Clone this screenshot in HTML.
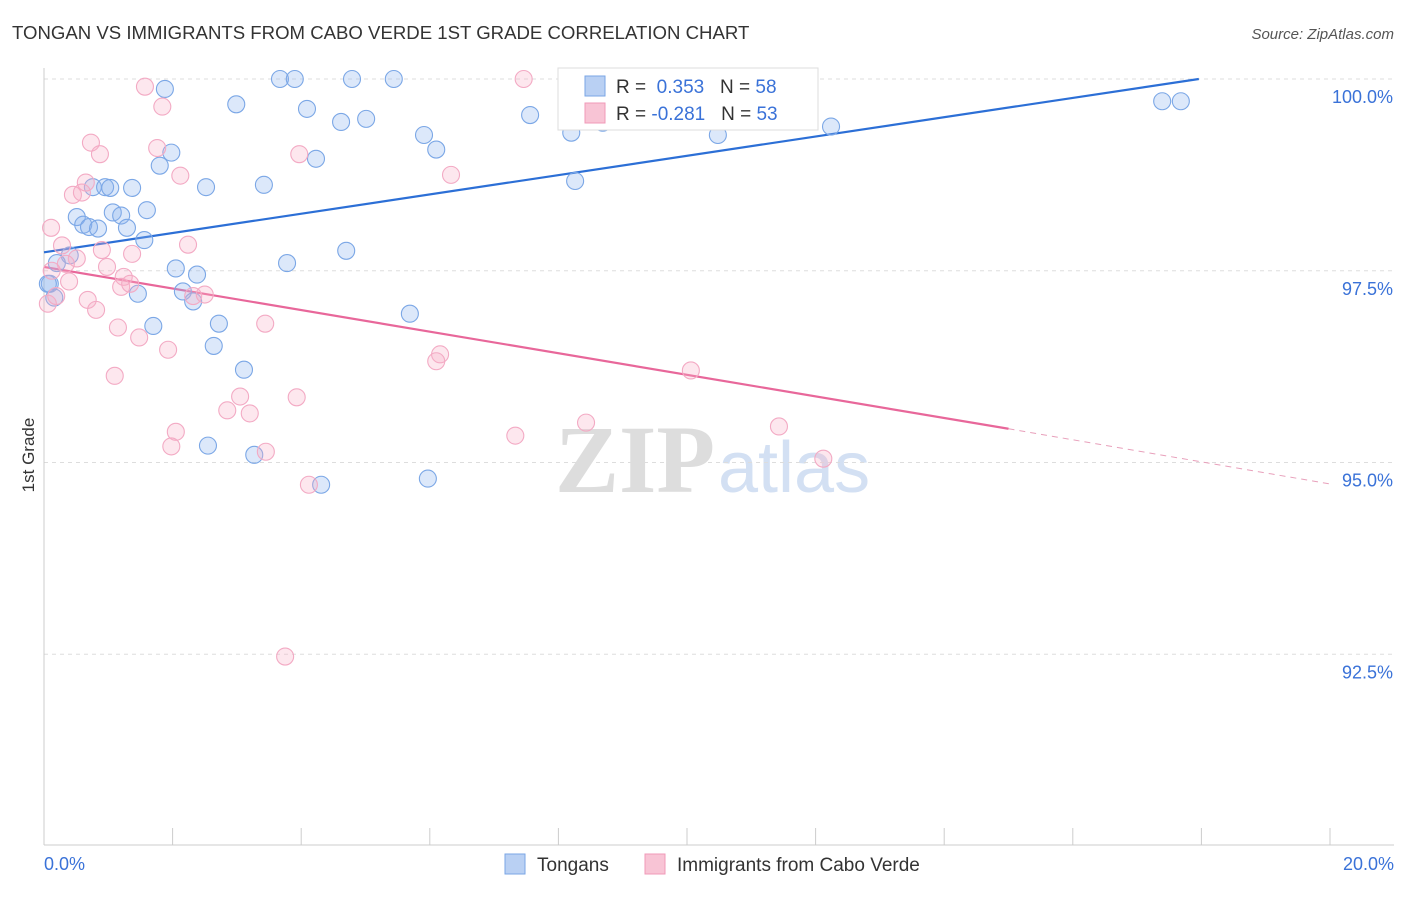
<!DOCTYPE html>
<html><head><meta charset="utf-8"><style>
body{margin:0;background:#fff;font-family:"Liberation Sans",sans-serif;}
</style></head><body>
<svg id="chart" width="1406" height="892" xmlns="http://www.w3.org/2000/svg" style="font-family:'Liberation Sans',sans-serif">
<text x="12" y="39" font-size="18.6" fill="#333">TONGAN VS IMMIGRANTS FROM CABO VERDE 1ST GRADE CORRELATION CHART</text>
<text x="1394" y="39" font-size="15" fill="#555" text-anchor="end" font-style="italic">Source: ZipAtlas.com</text>
<text x="555" y="492" font-size="96" fill="#ddd" font-family="Liberation Serif" font-weight="bold">ZIP</text>
<text x="718" y="492" font-size="72" fill="#d3e0f3">atlas</text>
<text x="34" y="455" font-size="17" fill="#333" transform="rotate(-90 34 455)" text-anchor="middle">1st Grade</text>
<g id="grid"></g><g id="axes"></g><g id="trends"></g><g id="pts"></g>
<g>
<rect x="558" y="68" width="260" height="62" fill="#fff" stroke="#ddd"/>
<rect x="585" y="76" width="20" height="20" fill="#b9d0f3" stroke="#7aa6e6"/>
<rect x="585" y="103" width="20" height="20" fill="#f8c4d5" stroke="#f09ab8"/>
<text x="616" y="93" font-size="19" fill="#333">R = <tspan fill="#3a72d8">&#160;0.353</tspan>&#160;&#160;&#160;N = <tspan fill="#3a72d8">58</tspan></text>
<text x="616" y="120" font-size="19" fill="#333">R = <tspan fill="#3a72d8">-0.281</tspan>&#160;&#160;&#160;N = <tspan fill="#3a72d8">53</tspan></text>
</g>
<g>
<rect x="505" y="854" width="20" height="20" fill="#b9d0f3" stroke="#7aa6e6"/>
<text x="537" y="871" font-size="19" fill="#333">Tongans</text>
<rect x="645" y="854" width="20" height="20" fill="#f8c4d5" stroke="#f09ab8"/>
<text x="677" y="871" font-size="19" fill="#333">Immigrants from Cabo Verde</text>
</g>
</svg>
<script>
const yTicks=[100,97.5,95,92.5];
const yTickLabels=["100.0%","97.5%","95.0%","92.5%"];
const xLabels=["0.0%","20.0%"];
const tonganX=[1.88,3.67,3.90,4.79,5.44,2.99,4.09,4.62,5.01,7.56,5.91,8.20,8.69,10.48,12.24,17.39,17.68,1.98,1.80,4.23,6.10,8.26,0.76,0.95,1.03,1.37,2.52,3.42,1.60,0.51,1.07,1.20,0.61,0.70,0.84,1.29,1.56,4.70,0.40,0.20,3.78,2.05,2.38,0.09,0.16,1.46,2.16,2.32,5.69,1.70,2.72,2.64,3.11,2.55,3.27,4.31,5.97,0.06];
const tonganY=[99.87,100,100,100,100,99.67,99.61,99.44,99.48,99.53,99.27,99.30,99.43,99.27,99.38,99.71,99.71,99.04,98.87,98.96,99.08,98.67,98.59,98.59,98.58,98.58,98.59,98.62,98.29,98.20,98.26,98.22,98.10,98.07,98.05,98.06,97.90,97.76,97.70,97.60,97.60,97.53,97.45,97.33,97.15,97.20,97.23,97.10,96.94,96.78,96.81,96.52,96.21,95.22,95.10,94.71,94.79,97.33];
const caboX=[1.57,7.46,1.84,0.73,0.87,1.76,3.97,2.12,6.33,0.65,0.45,0.59,0.11,0.28,2.24,0.90,1.37,0.51,0.98,0.34,0.39,1.24,1.20,1.34,2.32,2.50,0.68,0.81,0.06,1.15,3.44,1.48,1.93,6.16,6.10,1.10,10.06,3.05,3.93,2.85,3.20,8.43,11.43,2.05,7.33,1.98,3.45,12.12,4.12,3.75,0.12,8.71,0.19];
const caboY=[99.90,100,99.64,99.17,99.02,99.10,99.02,98.74,98.75,98.65,98.49,98.52,98.06,97.83,97.84,97.77,97.72,97.66,97.55,97.59,97.36,97.42,97.29,97.33,97.17,97.19,97.12,96.99,97.07,96.76,96.81,96.63,96.47,96.41,96.32,96.13,96.20,95.86,95.85,95.68,95.64,95.52,95.47,95.40,95.35,95.21,95.14,95.05,94.71,92.47,97.50,99.47,97.17];
const blueTrend=[[0,97.74],[17.96,100]];
const pinkTrendSolid=[[0,97.55],[15.0,95.44]];
const pinkTrendDash=[[15.0,95.44],[20,94.72]];
const NS="http://www.w3.org/2000/svg";
const X=v=>44+v*64.3, Y=v=>79+(100-v)*76.7;
function mk(tag,attrs,parent){const e=document.createElementNS(NS,tag);for(const k in attrs)e.setAttribute(k,attrs[k]);parent.appendChild(e);return e;}
const grid=document.getElementById('grid'),axes=document.getElementById('axes'),tr=document.getElementById('trends'),pts=document.getElementById('pts');
yTicks.forEach((t,i)=>{
 const l=mk('line',{x1:44,x2:1394,y1:Y(t),y2:Y(t),stroke:'#ddd','stroke-dasharray':'4,4'},grid);
 
 
 const tx=mk('text',{x:1393,y:Y(t)+24,'font-size':18,fill:'#3a72d8','text-anchor':'end'},grid);
 tx.textContent=yTickLabels[i];
 
 
});
const xa=mk('line',{x1:44,x2:1394,y1:845,y2:845,stroke:'#ccc'},axes);


const ya=mk('line',{x1:44,x2:44,y1:68,y2:845,stroke:'#ccc'},axes);


for(let i=0;i<=10;i++){
 const t=mk('line',{x1:X(i*2),x2:X(i*2),y1:828,y2:845,stroke:'#ccc'},axes);
 
 
}
[[0,'start',xLabels[0]],[20,'end',xLabels[1]]].forEach(([v,a,s])=>{
 const t=mk('text',{x:v==0?X(v):X(v)+64,y:870,'font-size':18,fill:'#3a72d8','text-anchor':a},axes);
 t.textContent=s;
 
 
});
function line(p,col,dash,name){
 const l=mk('line',{x1:X(p[0][0]),y1:Y(p[0][1]),x2:X(p[1][0]),y2:Y(p[1][1]),stroke:col,'stroke-width':dash?1:2.2},tr);
 if(dash)l.setAttribute('stroke-dasharray','6,5');
 
 
}
tonganX.forEach((x,i)=>{
 const c=mk('circle',{cx:X(x),cy:Y(tonganY[i]),r:8.5,fill:'rgba(140,180,240,0.3)',stroke:'#7ba7e6','stroke-width':1.1},pts);
 
 
});
caboX.forEach((x,i)=>{
 const c=mk('circle',{cx:X(x),cy:Y(caboY[i]),r:8.5,fill:'rgba(248,175,200,0.3)',stroke:'#f3aac4','stroke-width':1.1},pts);
 
 
});
line(blueTrend,'#2c6fd6',false,'tongan-trend-line');
line(pinkTrendSolid,'#e8679a',false,'cabo-verde-trend-line');
line(pinkTrendDash,'#e8a0bb',true,'cabo-verde-trend-extension');
</script>
</body></html>
